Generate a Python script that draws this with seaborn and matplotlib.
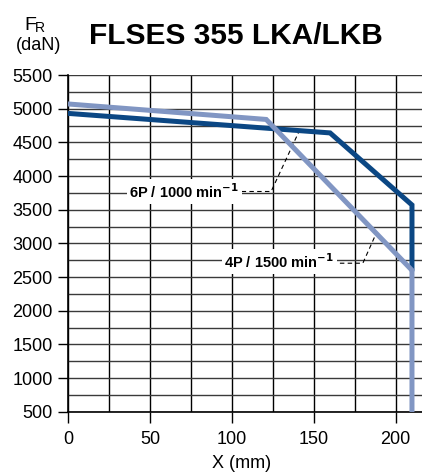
import matplotlib
matplotlib.use("Agg")
import matplotlib.pyplot as plt
import numpy as np
import pandas as pd
import seaborn as sns

# radial load curves
x_6p = [0, 160, 210, 210]
f_6p = [4930, 4640, 3570, 2600]
x_4p = [0, 121, 210, 210]
f_4p = [5070, 4840, 2600, 500]

x_ticks = [0, 50, 100, 150, 200]
y_ticks = [500, 1000, 1500, 2000, 2500, 3000, 3500, 4000, 4500, 5000, 5500]

# label anchor points and leader lines (data coordinates)
label_6p = (71, 3770)
leader_6p_x = [106, 124, 141]
leader_6p_y = [3770, 3770, 4660]
label_4p = (129, 2730)
leader_4p_x = [166, 180, 188]
leader_4p_y = [2705, 2705, 3140]

dark = "#0B4784"
light = "#8196C3"

sns.set_style("white")
plt.rcParams['font.family'] = ['Liberation Sans', 'DejaVu Sans']
plt.rcParams['text.color'] = 'black'
plt.rcParams['xtick.color'] = 'black'
plt.rcParams['ytick.color'] = 'black'

fig = plt.figure(figsize=(4.22, 4.75), dpi=100)
ax = fig.add_axes([68 / 422, (475 - 411.7) / 475, (422 - 68) / 422, (411.7 - 75) / 475])

df6 = pd.DataFrame({"x": x_6p, "F": f_6p})
df4 = pd.DataFrame({"x": x_4p, "F": f_4p})
sns.lineplot(data=df6, x="x", y="F", sort=False, estimator=None, color=dark,
             lw=3.6, ax=ax, zorder=4, solid_joinstyle="miter")
sns.lineplot(data=df4, x="x", y="F", sort=False, estimator=None, color=light,
             lw=3.6, ax=ax, zorder=5, solid_joinstyle="miter")

ax.set_xlim(0, (422 - 68) / 1.638)
ax.set_ylim(500, 5500)
ax.set_xticks(x_ticks)
ax.set_yticks(y_ticks)
ax.set_xticks(np.arange(0, 216, 25), minor=True)
ax.set_yticks(np.arange(500, 5501, 250), minor=True)
ax.grid(which="both", axis="x", color="black", lw=1.0, zorder=1)
ax.grid(which="both", axis="y", color="#3a3a3a", lw=1.0, zorder=1)
ax.tick_params(axis="y", which="major", direction="out", length=7, width=1,
               color="black", labelcolor="black", labelsize=13, pad=4, left=True)
ax.tick_params(axis="x", which="major", direction="out", length=8, width=1,
               color="black", labelcolor="black", labelsize=13, pad=6, bottom=True)
ax.tick_params(which="minor", length=0)
for side in ["top", "right"]:
    ax.spines[side].set_visible(False)
ax.spines["left"].set_color("black")
ax.spines["bottom"].set_color("black")
ax.spines["left"].set_linewidth(1.2)
ax.spines["bottom"].set_linewidth(1.2)
ax.set_xlabel("")
ax.set_ylabel("")

# labels with leader lines
ax.plot(leader_6p_x, leader_6p_y, color="black", lw=0.8, ls=(0, (4, 3)), zorder=3)
ax.plot(leader_4p_x, leader_4p_y, color="black", lw=0.8, ls=(0, (4, 3)), zorder=3)
ax.text(*label_6p, r"6P / 1000 min$^{\mathbf{-1}}$", ha="center", va="center",
        fontsize=10.5, fontweight="bold", zorder=6,
        bbox=dict(facecolor="white", edgecolor="none", pad=2))
ax.text(*label_4p, r"4P / 1500 min$^{\mathbf{-1}}$", ha="center", va="center",
        fontsize=10.5, fontweight="bold", zorder=6,
        bbox=dict(facecolor="white", edgecolor="none", pad=2))

# titles
fig.text(236 / 422, 1 - 36 / 475, "FLSES 355 LKA/LKB", ha="center", va="center",
         fontsize=21.5, fontweight="bold")
fig.text(24 / 422, 1 - 25 / 475, "F", ha="left", va="center", fontsize=14)
fig.text(35 / 422, 1 - 28 / 475, "R", ha="left", va="center", fontsize=10)
fig.text(39 / 422, 1 - 45 / 475, "(daN)", ha="center", va="center", fontsize=13)
fig.text(242 / 422, 1 - 464 / 475, "X (mm)", ha="center", va="center", fontsize=13)

fig.savefig("out.png", dpi=100)
